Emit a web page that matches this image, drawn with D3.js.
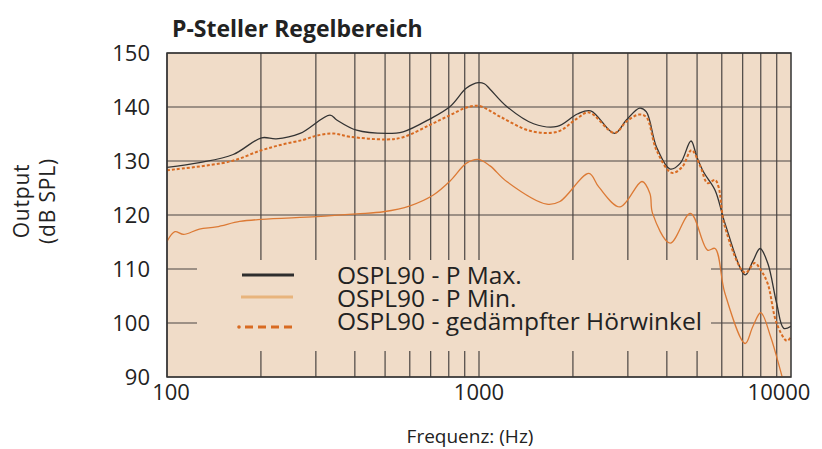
<html>
    <head>
        <title>P-Steller Regelbereich</title>
        <script src="https://cdn.jsdelivr.net/npm/d3@7"></script>
        <style>
            body {
                margin: 0;
                background: #fff;
            }
            svg text {
                font-family: "Open Sans", sans-serif;
                fill: #222;
            }
            .grid line {
                stroke: #4a4542;
                stroke-width: 1.2px;
            }
        </style>
    </head>
    <body>
        <svg id="chart"></svg>
    </body>
    <script>
        const WIDTH = 822
        const HEIGHT = 449

        // OSPL90 - P Max.
        const pmaxFreq = [100, 127, 163, 201, 224, 267, 333, 350, 405, 506, 571, 697, 808, 912, 995, 1040, 1085, 1227, 1496, 1781, 2066, 2280, 2719, 2967, 3274, 3440, 3706, 4100, 4420, 4780, 4990, 5240, 5710, 6140, 7130, 7540, 7960, 8420, 9000, 9480, 10000]
        const pmaxVal = [128.8, 129.7, 131.2, 134.3, 134.1, 135.1, 138.5, 137.6, 135.7, 135.1, 135.4, 137.8, 140.1, 143.5, 144.5, 144.3, 143.3, 140.1, 136.9, 136.4, 138.7, 139.3, 135.1, 137.6, 139.8, 139.1, 132.6, 128.5, 129.6, 133.7, 130.8, 128.0, 124.6, 118.5, 108.9, 111.4, 113.8, 111.1, 103.6, 99.0, 99.4]

        // OSPL90 - P Min.
        const pminFreq = [100, 106, 113, 127, 144, 171, 201, 302, 405, 494, 601, 714, 808, 912, 995, 1085, 1227, 1650, 1817, 2250, 2420, 2830, 3330, 3530, 3600, 4100, 4760, 5400, 5710, 6140, 7130, 7540, 8000, 8600, 9330, 9800]
        const pminVal = [115.1, 116.9, 116.4, 117.4, 117.8, 118.8, 119.2, 119.7, 120.2, 120.6, 121.7, 123.7, 126.3, 129.6, 130.3, 129.1, 126.2, 122.0, 122.5, 127.7, 125.2, 121.5, 126.2, 124.0, 120.3, 114.8, 120.3, 113.5, 113.8, 105.5, 96.2, 99.3, 101.9, 97.5, 90.4, 86]

        // OSPL90 - gedämpfter Hörwinkel
        const gedFreq = [100, 159, 201, 236, 273, 302, 341, 385, 506, 571, 697, 808, 912, 1000, 1170, 1455, 1781, 2066, 2250, 2719, 2967, 3258, 3440, 3706, 4150, 4480, 4800, 5130, 5400, 5710, 5860, 6140, 7130, 7650, 8000, 8420, 9000, 9700, 10000]
        const gedVal = [128.3, 129.9, 132.0, 133.1, 133.9, 134.7, 135.1, 134.5, 134.0, 134.4, 136.7, 138.5, 139.9, 140.2, 138.2, 135.6, 135.4, 137.9, 139.0, 135.2, 137.3, 138.6, 138.1, 132.0, 127.8, 128.9, 132.0, 128.9, 125.9, 126.5, 125.2, 117.8, 109.3, 111.1, 109.8, 107.3, 99.9, 96.7, 97.4]

        const yTicks = [90, 100, 110, 120, 130, 140, 150]
        const xTicks = [100, 1000, 10000]
        const legendLabels = ["OSPL90 - P Max.", "OSPL90 - P Min.", "OSPL90 - gedämpfter Hörwinkel"]

        const plotLeft = 167, plotRight = 791, plotTop = 53, plotBottom = 377
        const bg = "#f0dcc8"

        function draw() {
            let svg = d3.select("#chart")
                .attr("width", WIDTH)
                .attr("height", HEIGHT)

            let x = d3.scaleLog().domain([100, 10000]).range([plotLeft, plotRight])
            let y = d3.scaleLinear().domain([90, 150]).range([plotBottom, plotTop])

            svg.append("rect")
                .attr("x", plotLeft).attr("y", plotTop)
                .attr("width", plotRight - plotLeft).attr("height", plotBottom - plotTop)
                .attr("fill", bg)

            // grid
            let vLines = []
            for (let d = 100; d < 10000; d *= 10)
                for (let k = 1; k <= 9; k++) vLines.push(d * k)
            let grid = svg.append("g").attr("class", "grid")
            grid.selectAll(".v").data(vLines).enter().append("line")
                .attr("x1", d => x(d)).attr("x2", d => x(d))
                .attr("y1", plotTop).attr("y2", plotBottom)
            grid.selectAll(".h").data(yTicks).enter().append("line")
                .attr("x1", plotLeft).attr("x2", plotRight)
                .attr("y1", d => y(d)).attr("y2", d => y(d))

            // legend background hides the grid
            svg.append("rect")
                .attr("x", 197).attr("y", 260)
                .attr("width", 514).attr("height", 91)
                .attr("fill", bg)

            svg.append("clipPath").attr("id", "clip")
                .append("rect")
                .attr("x", plotLeft).attr("y", plotTop)
                .attr("width", plotRight - plotLeft).attr("height", plotBottom - plotTop)

            let line = d3.line()
                .x(d => x(d[0]))
                .y(d => y(d[1]))
                .curve(d3.curveCatmullRom.alpha(0.5))

            let curves = svg.append("g").attr("clip-path", "url(#clip)")

            curves.append("path")
                .datum(d3.zip(pminFreq, pminVal))
                .attr("d", line)
                .attr("fill", "none")
                .attr("stroke", "#dc7a35")
                .attr("stroke-width", 1.3)

            curves.append("path")
                .datum(d3.zip(pmaxFreq, pmaxVal))
                .attr("d", line)
                .attr("fill", "none")
                .attr("stroke", "#333")
                .attr("stroke-width", 1.3)

            curves.append("path")
                .datum(d3.zip(gedFreq, gedVal))
                .attr("d", line)
                .attr("fill", "none")
                .attr("stroke", "#d86b22")
                .attr("stroke-width", 2)
                .attr("stroke-dasharray", "3,2")

            // frame
            svg.append("rect")
                .attr("x", plotLeft).attr("y", plotTop)
                .attr("width", plotRight - plotLeft).attr("height", plotBottom - plotTop)
                .attr("fill", "none")
                .attr("stroke", "#333")
                .attr("stroke-width", 1.5)

            // y labels
            svg.append("g").selectAll("text").data(yTicks).enter().append("text")
                .attr("x", 150)
                .attr("y", d => y(d))
                .attr("dy", "0.35em")
                .attr("text-anchor", "end")
                .attr("font-size", 22)
                .text(d => d)

            // x labels
            svg.append("g").selectAll("text").data(xTicks).enter().append("text")
                .attr("x", (d, i) => x(d) + [4, 0, -12][i])
                .attr("y", 400)
                .attr("text-anchor", "middle")
                .attr("font-size", 22)
                .text(d => d)

            svg.append("text")
                .attr("x", 470).attr("y", 443)
                .attr("text-anchor", "middle")
                .attr("font-size", 19)
                .text("Frequenz: (Hz)")

            let yTitle = svg.append("text")
                .attr("transform", "translate(0,201) rotate(-90)")
                .attr("text-anchor", "middle")
                .attr("font-size", 21)
                .attr("letter-spacing", 0.8)
            yTitle.append("tspan").attr("x", 0).attr("y", 29).text("Output")
            yTitle.append("tspan").attr("x", 0).attr("y", 55).text("(dB SPL)")

            svg.append("text")
                .attr("x", 172).attr("y", 37)
                .attr("font-size", 23)
                .attr("font-weight", "bold")
                .text("P-Steller Regelbereich")

            // legend
            let rows = [275, 298, 321]
            let lg = svg.append("g")
            lg.append("line").attr("x1", 242).attr("x2", 294).attr("y1", 275).attr("y2", 275)
                .attr("stroke", "#2e2e2e").attr("stroke-width", 3)
            lg.append("line").attr("x1", 241).attr("x2", 293).attr("y1", 297).attr("y2", 297)
                .attr("stroke", "#e8b47c").attr("stroke-width", 3)
            lg.append("circle").attr("cx", 239).attr("cy", 327).attr("r", 1.8).attr("fill", "#d86b22")
            lg.append("line").attr("x1", 245).attr("x2", 293).attr("y1", 327).attr("y2", 327)
                .attr("stroke", "#d86b22").attr("stroke-width", 3)
                .attr("stroke-dasharray", "8,5")
            lg.selectAll("text").data(legendLabels).enter().append("text")
                .attr("x", 337)
                .attr("y", (d, i) => rows[i])
                .attr("dy", "0.36em")
                .attr("font-size", 24.5)
                .text(d => d)
        }

        draw()
    </script>
</html>
